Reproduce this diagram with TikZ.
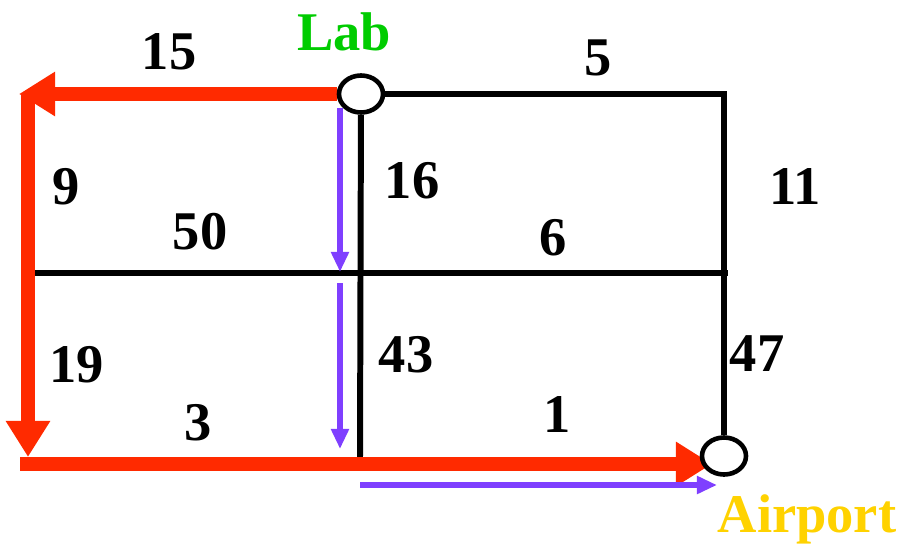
\documentclass[tikz,border=0pt]{standalone}
\usepackage{fontspec}
\setmainfont{Liberation Serif}
\usetikzlibrary{arrows.meta,shapes.geometric,backgrounds}
\definecolor{rutaRoja}{HTML}{FF2A00}
\definecolor{rutaMorada}{HTML}{7F3FFF}
\definecolor{labVerde}{HTML}{00CC00}
\definecolor{aptAmarillo}{HTML}{FFD200}

\begin{document}
\begin{tikzpicture}[x=0.01cm, y=-0.01cm,
      stop/.style={ellipse, draw, line width=1.3pt, fill=white, inner sep=0pt,
                   minimum width=0.44cm, minimum height=0.37cm},
      road/.style={line width=1.7pt},
      route/.style={draw=rutaRoja, line width=4pt,
                    -{Triangle[length=0.36cm,width=0.42cm]}},
      walk/.style={draw=rutaMorada, line width=1.6pt,
                   -{Triangle[length=0.2cm,width=0.17cm]}},
      cost/.style={font=\fontsize{15.5pt}{18pt}\selectfont\bfseries},
      place/.style={font=\fontsize{15.5pt}{18pt}\selectfont\bfseries,
                    text=#1, anchor=base}]
    \useasboundingbox (0,0) rectangle (903,545);
    % stops
    \node[stop] (lab) at (361,94)  {};
    \node[stop] (apt) at (724,456) {};
    \node[place=labVerde]    (labname) at (344,50)  {Lab};
    \node[place=aptAmarillo] (aptname) at (807,532) {Airport};
    % costs
    \node[cost] (c15) at (169,52)  {15};
    \node[cost] (c5)  at (598,58)  {5};
    \node[cost] (c9)  at (66,187)  {9};
    \node[cost] (c16) at (412,181) {16};
    \node[cost] (c11) at (795,187) {11};
    \node[cost] (c50) at (200,232) {50};
    \node[cost] (c6)  at (553,238) {6};
    \node[cost] (c19) at (77,365)  {19};
    \node[cost] (c43) at (406,355) {43};
    \node[cost] (c47) at (757,354) {47};
    \node[cost] (c3)  at (198,423) {3};
    \node[cost] (c1)  at (557,414) {1};
    % corners
    \coordinate (tr) at (724,94);
    \coordinate (ml) at (35,273);
    \coordinate (mr) at (728,273);
    \coordinate (mb) at (360,458);
    \coordinate (tl) at (19,94);
    \coordinate (lt) at (28,94);
    \coordinate (lb) at (28,457);
    \coordinate (bl) at (20,464);
    \coordinate (br) at (712,464);
    \coordinate (w1) at (340,108);
    \coordinate (w2) at (340,272);
    \coordinate (w3) at (340,283);
    \coordinate (w4) at (340,449);
    \coordinate (w5) at (360,485);
    \coordinate (w6) at (717,485);
    \begin{scope}[on background layer]
      \draw[road] (lab) -- (tr) -- (apt);
      \draw[road] (lab) -- (mb);
      \draw[road] (ml) -- (mr);
      \draw[route] (lab.west) -- (tl);
      \draw[route] (lt) -- (lb);
      \draw[route] (bl) -- (br);
      \draw[walk] (w1) -- (w2);
      \draw[walk] (w3) -- (w4);
      \draw[walk] (w5) -- (w6);
    \end{scope}
\end{tikzpicture}
\end{document}
